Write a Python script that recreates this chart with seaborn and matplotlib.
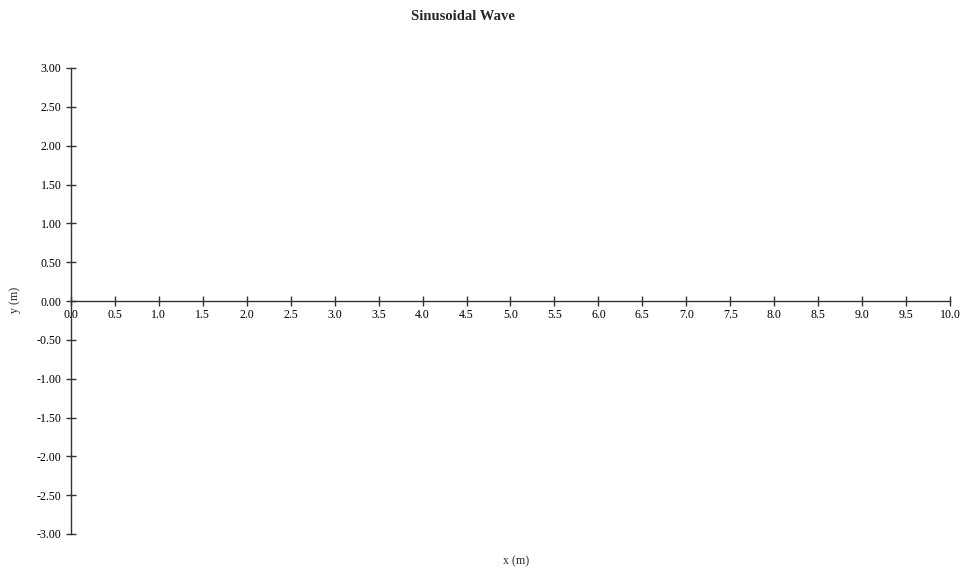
import matplotlib
matplotlib.use("Agg")
import matplotlib.pyplot as plt
import seaborn as sns
import pandas as pd
import numpy as np

title = "Sinusoidal Wave"
x_label = "x (m)"
y_label = "y (m)"
x_ticks = [0.0, 0.5, 1.0, 1.5, 2.0, 2.5, 3.0, 3.5, 4.0, 4.5, 5.0, 5.5, 6.0, 6.5, 7.0, 7.5, 8.0, 8.5, 9.0, 9.5, 10.0]
y_ticks = [3.0, 2.5, 2.0, 1.5, 1.0, 0.5, 0.0, -0.5, -1.0, -1.5, -2.0, -2.5, -3.0]
x_data = []  # no series drawn in the reference
y_data = []

sns.set_style("white")
plt.rcParams['font.family'] = ['Liberation Serif', 'DejaVu Serif']

fig = plt.figure(figsize=(9.62, 5.68), dpi=100)
ax = fig.add_axes([71/962, 1-534/568, (950-71)/962, (534-68)/568])

df = pd.DataFrame({"x": pd.Series(x_data, dtype=float), "y": pd.Series(y_data, dtype=float)})
sns.lineplot(data=df, x="x", y="y", ax=ax)

ax.set_xlim(min(x_ticks), max(x_ticks))
ax.set_ylim(min(y_ticks), max(y_ticks))
ax.spines['left'].set_position(('data', 0))
ax.spines['bottom'].set_position(('data', 0))
ax.spines['top'].set_visible(False)
ax.spines['right'].set_visible(False)
for s in ['left', 'bottom']:
    ax.spines[s].set_color('#333333')
    ax.spines[s].set_linewidth(1.0)

ax.set_xticks(x_ticks)
ax.set_xticklabels([f"{v:.1f}" for v in x_ticks])
ax.set_yticks(y_ticks)
ax.set_yticklabels([f"{v:.2f}" for v in y_ticks])
ax.tick_params(axis='both', bottom=True, left=True, top=False, right=False,
               direction='inout', length=7.5, width=1.0, color='#333333',
               labelsize=8.6, labelcolor='black')
ax.tick_params(axis='y', pad=3)
ax.tick_params(axis='x', pad=2)
ax.set_xlabel("")
ax.set_ylabel("")

fig.text(463/962, 1-17/568, title, ha='center', va='center', fontsize=10.5, fontweight='bold')
fig.text(516/962, 1-561/568, x_label, ha='center', va='center', fontsize=8.6)
fig.text(15/962, 1-300/568, y_label, ha='center', va='center', fontsize=8.6, rotation=90)

fig.savefig("out.png", dpi=100)
